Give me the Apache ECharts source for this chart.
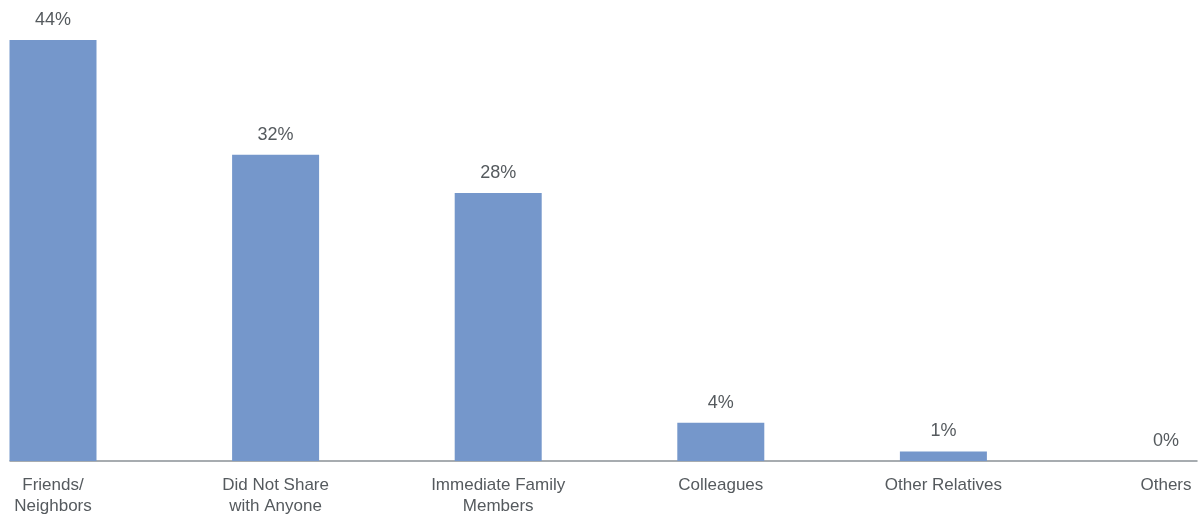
<!DOCTYPE html>
<html>
<head>
<meta charset="utf-8">
<script src="https://cdn.jsdelivr.net/npm/echarts@6/dist/echarts.min.js"></script>
<style>
html,body{margin:0;padding:0;background:#fff;}
#c{width:1199px;height:514px;}
</style>
</head>
<body>
<div id="c"></div>
<script>
const categories = ['Friends/\nNeighbors', 'Did Not Share\nwith Anyone', 'Immediate Family\nMembers', 'Colleagues', 'Other Relatives', 'Others'];
const values = [44, 32, 28, 4, 1, 0];

const chart = echarts.init(document.getElementById('c'));
chart.setOption({
  animation: false,
  textStyle: { fontFamily: 'Liberation Sans, Arial, sans-serif' },
  grid: [
    { left: 53, right: 33, top: 40, bottom: 53, containLabel: false, outerBoundsMode: 'none' },
    { left: 10, right: 2, top: 40, bottom: 53, containLabel: false, outerBoundsMode: 'none' }
  ],
  xAxis: [
    {
      type: 'category', gridIndex: 0, data: categories, boundaryGap: false,
      axisLine: { show: false }, axisTick: { show: false },
      axisLabel: { color: '#555a5e', fontSize: 17, margin: 14, lineHeight: 21, interval: 0 }
    },
    {
      type: 'value', gridIndex: 1, min: 0, max: 1,
      axisLine: { show: true, onZero: false, lineStyle: { color: '#8a9197', width: 1.5 } },
      axisTick: { show: false }, axisLabel: { show: false }, splitLine: { show: false }
    }
  ],
  yAxis: [
    { type: 'value', gridIndex: 0, min: 0, max: 44, show: false },
    { type: 'value', gridIndex: 1, min: 0, max: 1, show: false }
  ],
  series: [{
    type: 'bar', xAxisIndex: 0, yAxisIndex: 0,
    data: values, barWidth: 87, clip: false,
    itemStyle: { color: '#7597cb' },
    label: {
      show: true, position: 'top', distance: 11,
      formatter: p => p.value + '%',
      color: '#555a5e', fontSize: 18
    }
  }]
});
</script>
</body>
</html>
